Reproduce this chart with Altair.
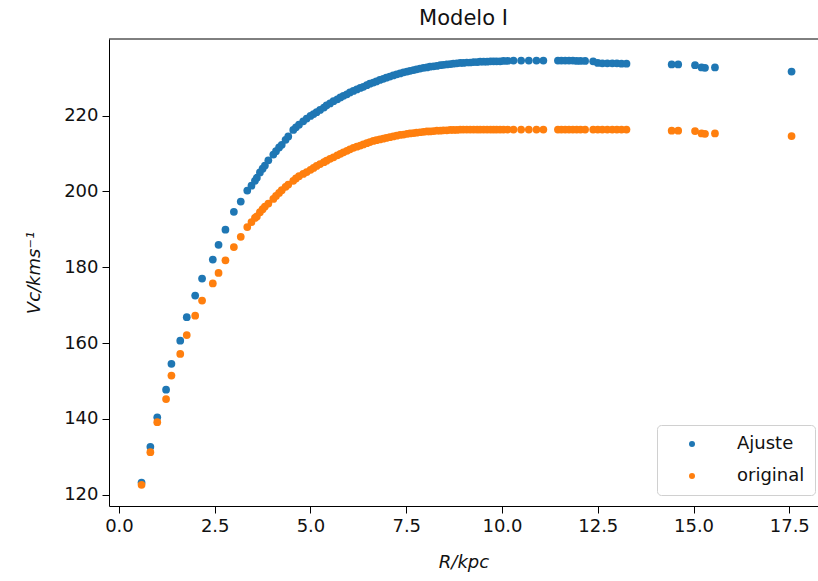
import altair as alt
import pandas as pd

# Galactocentric radius (kpc), shared by both series
R = [0.59, 0.82, 1.00, 1.23, 1.37, 1.60, 1.77, 1.99, 2.17, 2.45, 2.60, 2.78, 3.00, 3.18,
     3.35, 3.46, 3.55, 3.60, 3.68, 3.75, 3.81, 3.90, 4.03, 4.10, 4.18, 4.25, 4.35, 4.42, 4.55, 4.62, 4.70, 4.81, 4.90, 5.00,
     5.08, 5.16, 5.25, 5.35, 5.42, 5.51, 5.60, 5.70, 5.78, 5.86, 5.95, 6.03, 6.12, 6.21, 6.30, 6.38, 6.47, 6.55, 6.64, 6.72,
     6.81, 6.90, 6.98, 7.07, 7.16, 7.25, 7.34, 7.43, 7.52, 7.60, 7.69, 7.77, 7.86, 7.95, 8.04, 8.12, 8.21, 8.30, 8.39, 8.47,
     8.56, 8.65, 8.73, 8.82, 8.91, 8.99, 9.08, 9.17, 9.26, 9.35, 9.43, 9.52, 9.61, 9.70, 9.78, 9.86, 9.95, 10.04, 10.15, 10.30,
     10.50, 10.70, 10.90, 11.08, 11.46, 11.55, 11.65, 11.75, 11.85, 11.95, 12.05, 12.17, 12.38, 12.50, 12.62, 12.75, 12.88, 13.00, 13.12, 13.25,
     14.43, 14.60, 15.04, 15.21, 15.30, 15.56, 17.56]

# Fitted rotation curve (Ajuste)
V_ajuste = [123.2, 132.6, 140.4, 147.7, 154.5, 160.6, 166.8, 172.5, 177.0, 182.0, 185.9, 189.9, 194.6, 197.3,
            200.2, 201.5, 202.8, 203.6, 205.0, 206.0, 206.8, 208.2, 209.7, 210.6, 211.6, 212.3, 213.6, 214.5, 216.2, 216.9, 217.6, 218.5, 219.2, 219.9,
            220.4, 220.9, 221.5, 222.1, 222.7, 223.2, 223.8, 224.3, 224.8, 225.2, 225.6, 226.1, 226.5, 226.9, 227.3, 227.6, 228.0, 228.4, 228.7, 229.0,
            229.4, 229.7, 230.0, 230.3, 230.6, 230.9, 231.1, 231.4, 231.6, 231.8, 232.0, 232.2, 232.4, 232.6, 232.7, 232.9, 233.0, 233.1, 233.3, 233.4,
            233.5, 233.6, 233.7, 233.8, 233.9, 233.9, 234.0, 234.0, 234.1, 234.1, 234.2, 234.2, 234.2, 234.3, 234.3, 234.3, 234.3, 234.4, 234.4, 234.5,
            234.5, 234.5, 234.5, 234.5, 234.5, 234.5, 234.5, 234.5, 234.5, 234.4, 234.4, 234.4, 234.3, 233.9, 233.8, 233.8, 233.8, 233.8, 233.7, 233.7,
            233.5, 233.5, 233.3, 232.7, 232.6, 232.7, 231.6]

# Original rotation curve
V_original = [122.6, 131.2, 139.1, 145.2, 151.4, 157.1, 162.1, 167.2, 171.2, 175.7, 178.5, 181.8, 185.3, 188.0,
              190.6, 191.9, 193.0, 193.4, 194.5, 195.3, 196.0, 196.8, 198.0, 198.8, 199.6, 200.3, 201.2, 201.8, 202.8, 203.4, 204.0, 204.6, 205.1, 205.7,
              206.2, 206.7, 207.2, 207.7, 208.1, 208.6, 209.0, 209.5, 209.9, 210.3, 210.7, 211.1, 211.5, 211.8, 212.1, 212.4, 212.7, 213.0, 213.3, 213.5,
              213.7, 213.9, 214.1, 214.3, 214.5, 214.7, 214.9, 215.0, 215.2, 215.3, 215.4, 215.5, 215.6, 215.7, 215.8, 215.8, 215.9, 216.0, 216.0, 216.1,
              216.1, 216.2, 216.2, 216.2, 216.3, 216.3, 216.3, 216.3, 216.3, 216.3, 216.3, 216.3, 216.3, 216.3, 216.3, 216.3, 216.3, 216.3, 216.3, 216.3,
              216.3, 216.3, 216.3, 216.3, 216.3, 216.3, 216.3, 216.3, 216.3, 216.3, 216.3, 216.3, 216.3, 216.3, 216.3, 216.3, 216.3, 216.3, 216.3, 216.3,
              216.0, 216.0, 215.9, 215.3, 215.2, 215.3, 214.6]

series_names = ["Ajuste", "original"]
series_colors = ["#1f77b4", "#ff7f0e"]
x_ticks = [0.0, 2.5, 5.0, 7.5, 10.0, 12.5, 15.0, 17.5]
y_ticks = [120, 140, 160, 180, 200, 220]

df_a = pd.DataFrame({"R": R, "V": V_ajuste, "serie": series_names[0]})
df_o = pd.DataFrame({"R": R, "V": V_original, "serie": series_names[1]})

FONT = "DejaVu Sans"
W, H = 709, 467

xenc = alt.X("R:Q",
             scale=alt.Scale(domain=[-0.26, 18.25], nice=False, zero=False),
             axis=alt.Axis(values=x_ticks, format=".1f", title="R/kpc",
                           titleFontStyle="italic", titlePadding=18))
yenc = alt.Y("V:Q",
             scale=alt.Scale(domain=[117.0, 240.2], nice=False, zero=False),
             axis=alt.Axis(values=y_ticks, format="d", title="Vc/kms⁻¹",
                           titleFontStyle="italic", titlePadding=20))
cenc = alt.Color("serie:N",
                 scale=alt.Scale(domain=series_names, range=series_colors),
                 legend=alt.Legend(title=None, orient="none", legendX=548, legendY=386,
                                   symbolType="circle", symbolSize=36,
                                   labelFontSize=18, labelFont=FONT, labelColor="#111",
                                   padding=10, rowPadding=14, symbolOffset=16, labelOffset=36,
                                   strokeColor="#d0d0d0", fillColor="white", cornerRadius=4))

pts_a = alt.Chart(df_a).mark_circle(size=60, opacity=1).encode(x=xenc, y=yenc, color=cenc)
pts_o = alt.Chart(df_o).mark_circle(size=60, opacity=1).encode(x=xenc, y=yenc, color=cenc)

top_spine = alt.Chart(pd.DataFrame({"k": [0]})).mark_rule(color="black", strokeWidth=1).encode(
    x=alt.value(0), x2=alt.value(W), y=alt.value(0))

chart = alt.layer(pts_a, pts_o, top_spine).properties(
    width=W, height=H,
    background="white",
    title=alt.TitleParams("Modelo I", fontSize=21, font=FONT, fontWeight="normal",
                          color="#111", offset=10),
    autosize=alt.AutoSizeParams(type="none"),
    padding={"left": 109, "top": 39, "right": 0, "bottom": 75},
).configure_view(stroke=None).configure_axis(
    grid=False, domainColor="black", domainWidth=1, tickColor="black", tickSize=7,
    labelFont=FONT, labelFontSize=18, labelColor="#111", labelPadding=4,
    titleFont=FONT, titleFontSize=18, titleColor="#111", titleFontWeight="normal"
)

chart.save("out.html", embed_options={"renderer": "svg", "actions": False})
